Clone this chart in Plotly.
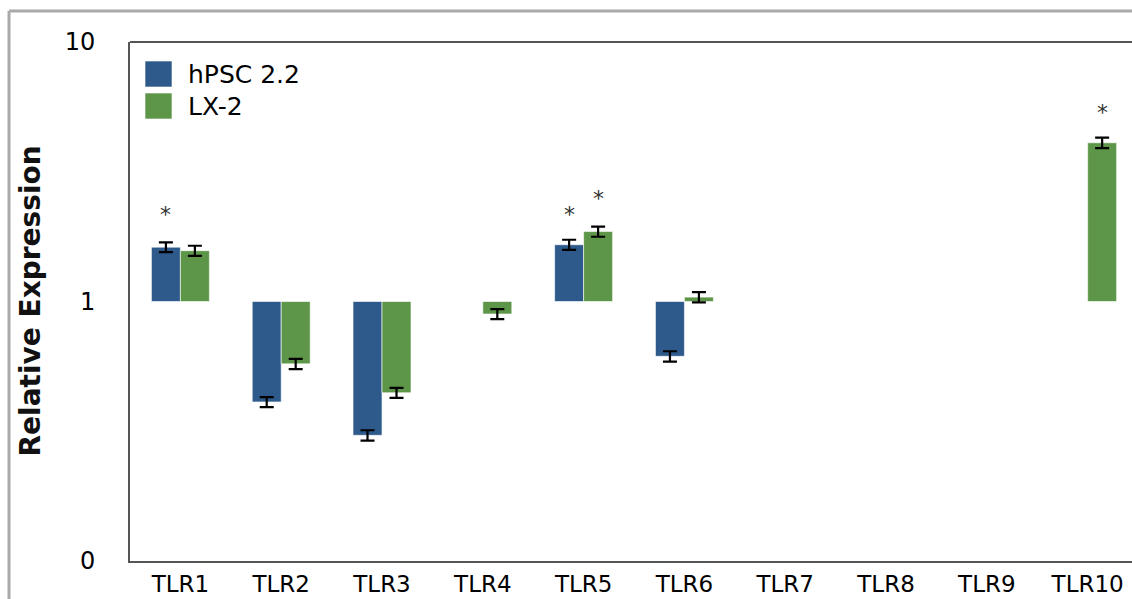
import math
import plotly.graph_objects as go

# Relative expression of Toll-like receptors (fold change vs. reference = 1)
categories = ["TLR1", "TLR2", "TLR3", "TLR4", "TLR5",
              "TLR6", "TLR7", "TLR8", "TLR9", "TLR10"]
hpsc_values = [1.62, 0.41, 0.305, None, 1.655, 0.615, None, None, None, None]
hpsc_errors = [0.07, 0.018, 0.014, None, 0.075, 0.028, None, None, None, None]
lx2_values = [1.57, 0.575, 0.445, 0.895, 1.86, 1.04, None, None, None, 4.09]
lx2_errors = [0.07, 0.026, 0.02, 0.04, 0.084, 0.047, None, None, None, 0.19]

# significance markers: (category, series, height)
stars = [("TLR1", "hpsc", 2.18), ("TLR5", "hpsc", 2.18),
         ("TLR5", "lx2", 2.52), ("TLR10", "lx2", 5.4)]

y_tickvals = [0.1, 1, 10]
y_ticktext = ["0", "1", "10"]

BLUE = "#2D5A8B"
GREEN = "#5E9649"
FONT = "DejaVu Sans"
BASE = 1.0

W, H = 1132, 599
ML, MR, MT, MB = 130, 0, 42, 38
PW, PH = W - ML - MR, H - MT - MB


def px_x(px):
    return (px - ML) / PW


def px_y(py):
    return (H - MB - py) / PH


def sizes(vals):
    return [None if v is None else v - BASE for v in vals]


fig = go.Figure()
for name, vals, errs, color in [("hPSC 2.2", hpsc_values, hpsc_errors, BLUE),
                                ("LX-2", lx2_values, lx2_errors, GREEN)]:
    fig.add_trace(go.Bar(
        name=name, x=categories, y=sizes(vals), base=BASE,
        marker=dict(color=color, line=dict(color="rgba(255,255,255,0.6)", width=1)),
        error_y=dict(type="data", array=errs, color="black", thickness=2.2, width=7),
        showlegend=False,
    ))

shapes = [
    # top frame line of the plot area
    dict(type="line", xref="paper", yref="paper", x0=0, x1=1, y0=1, y1=1,
         line=dict(color="#555555", width=2)),
    # outer light-grey border
    dict(type="line", xref="paper", yref="paper", x0=px_x(9), x1=px_x(9),
         y0=px_y(11), y1=px_y(H + 5), line=dict(color="#AAAAAA", width=3)),
    dict(type="line", xref="paper", yref="paper", x0=px_x(9), x1=px_x(W + 5),
         y0=px_y(11), y1=px_y(11), line=dict(color="#AAAAAA", width=3)),
]

annotations = []
# legend drawn as swatches + labels
for i, (label, color) in enumerate([("hPSC 2.2", BLUE), ("LX-2", GREEN)]):
    top = 61 + i * 32
    shapes.append(dict(type="rect", xref="paper", yref="paper",
                       x0=px_x(145), x1=px_x(172), y0=px_y(top), y1=px_y(top + 26),
                       fillcolor=color, line=dict(color="rgba(255,255,255,0.6)", width=1)))
    annotations.append(dict(xref="paper", yref="paper", x=px_x(186), y=px_y(top + 13),
                            xanchor="left", yanchor="middle", showarrow=False,
                            text=label, font=dict(family=FONT, size=25, color="black")))

# y-axis title
annotations.append(dict(xref="paper", yref="paper", x=px_x(30), y=0.5,
                        xanchor="center", yanchor="middle", textangle=-90,
                        showarrow=False, text="<b>Relative Expression</b>",
                        font=dict(family=FONT, size=28, color="#111111")))

for cat, series, h in stars:
    annotations.append(dict(x=cat, y=math.log10(h), xref="x", yref="y",
                            xshift=-14.5 if series == "hpsc" else 14.5, yshift=-1,
                            showarrow=False, text="*", xanchor="center", yanchor="middle",
                            font=dict(family=FONT, size=22, color="#333333")))

fig.update_layout(
    width=W, height=H,
    margin=dict(l=ML, r=MR, t=MT, b=MB, pad=0, autoexpand=False),
    paper_bgcolor="white", plot_bgcolor="white",
    barmode="group", bargap=0.425, bargroupgap=0,
    shapes=shapes, annotations=annotations,
    font=dict(family=FONT, color="black"),
)
fig.update_xaxes(
    type="category", range=[-0.5, 9.44], showline=True, linecolor="#555555",
    linewidth=2, ticks="", showgrid=False, ticklabelstandoff=1, automargin=False,
    tickfont=dict(family=FONT, size=23, color="black"),
)
fig.update_yaxes(
    type="log", range=[-1, 1], tickvals=y_tickvals, ticktext=y_ticktext,
    showline=True, linecolor="#555555", linewidth=2, ticks="", showgrid=False,
    zeroline=False, ticklabelstandoff=28, automargin=False,
    tickfont=dict(family=FONT, size=24, color="black"),
)

fig.write_html("out.html")
